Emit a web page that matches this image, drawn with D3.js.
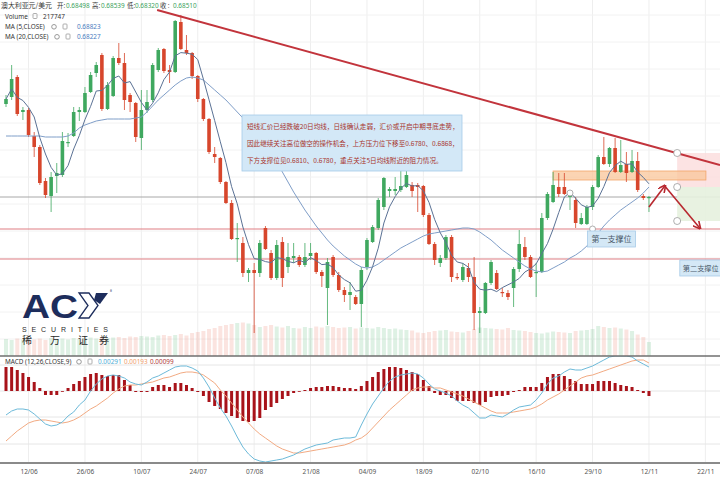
<!DOCTYPE html>
<meta charset="utf-8">
<style>
  body { margin: 0; background: #fff; }
  svg { display: block; font-family: "Noto Sans CJK SC", "Noto Sans", sans-serif; }
</style>
<body>
<div id="chart"></div>
<script src="https://d3js.org/d3.v7.min.js"></script>
<script>
  // daily candles, AUD/USD
  const openP = [
    0.6935,0.6942,0.6962,0.6927,0.6929,0.6903,0.6892,0.6858,0.6843,0.6863,
    0.6864,0.6896,0.6903,0.6927,0.6927,0.6947,0.6966,0.6984,0.6930,0.6943,
    0.6981,0.6976,0.6944,0.6936,0.6901,0.6929,0.6939,0.6969,0.6990,0.6969,
    0.6967,0.7017,0.6989,0.6986,0.6963,0.6940,0.6920,0.6885,0.6881,0.6857,
    0.6836,0.6800,0.6796,0.6766,0.6769,0.6766,0.6811,0.6786,0.6761,0.6797,
    0.6772,0.6781,0.6782,0.6774,0.6783,0.6786,0.6767,0.6751,0.6782,0.6764,
    0.6749,0.6744,0.6742,0.6735,0.6772,0.6797,0.6811,0.6832,0.6848,0.6848,
    0.6849,0.6852,0.6854,0.6854,0.6853,0.6824,0.6795,0.6776,0.6781,0.6802,
    0.6762,0.6759,0.6771,0.6762,0.6726,0.6726,0.6756,0.6766,0.6747,0.6746,
    0.6751,0.6770,0.6792,0.6782,0.6766,0.6767,0.6821,0.6837,0.6852,0.6852,
    0.6842,0.6839,0.6815,0.6815,0.6832,0.6852,0.6882,0.6875,0.6891,0.6867,
    0.6875,0.6867,0.6878,0.6843,0.6841];
  const highP = [
    0.6944,0.6974,0.6964,0.6932,0.6931,0.6907,0.6894,0.6861,0.6867,0.6876,
    0.6907,0.6906,0.6932,0.6932,0.6952,0.6967,0.6977,0.6986,0.6957,0.6983,
    0.6996,0.6986,0.6946,0.6937,0.6949,0.6949,0.6976,0.6991,0.6991,0.6974,
    0.7019,0.7024,0.7004,0.6987,0.6964,0.6941,0.6921,0.6892,0.6882,0.6858,
    0.6839,0.6816,0.6802,0.6771,0.6776,0.6799,0.6813,0.6789,0.6799,0.6802,
    0.6796,0.6796,0.6784,0.6796,0.6796,0.6787,0.6769,0.6781,0.6784,0.6767,
    0.6752,0.6757,0.6744,0.6772,0.6801,0.6814,0.6841,0.6862,0.6852,0.6862,
    0.6874,0.6874,0.6857,0.6856,0.6854,0.6826,0.6797,0.6784,0.6804,0.6804,
    0.6766,0.6776,0.6776,0.6782,0.6732,0.6757,0.6779,0.6769,0.6751,0.6749,
    0.6772,0.6809,0.6802,0.6784,0.6776,0.6826,0.6847,0.6867,0.6866,0.6866,
    0.6846,0.6842,0.6826,0.6834,0.6854,0.6884,0.6902,0.6892,0.6901,0.6899,
    0.6887,0.6889,0.6887,0.6845,0.6843];
  const lowP = [
    0.6932,0.6939,0.6923,0.6919,0.6902,0.6882,0.6854,0.6841,0.6827,0.6846,
    0.6862,0.6892,0.6902,0.6918,0.6926,0.6946,0.6962,0.6928,0.6929,0.6942,
    0.6974,0.6929,0.6927,0.6897,0.6889,0.6926,0.6937,0.6967,0.6966,0.6956,
    0.6966,0.6989,0.6984,0.6960,0.6937,0.6918,0.6885,0.6876,0.6855,0.6835,
    0.6799,0.6777,0.6762,0.6757,0.6706,0.6762,0.6789,0.6759,0.6759,0.6752,
    0.6766,0.6776,0.6772,0.6772,0.6779,0.6765,0.6752,0.6714,0.6762,0.6747,
    0.6737,0.6729,0.6734,0.6712,0.6769,0.6796,0.6809,0.6829,0.6842,0.6844,
    0.6847,0.6851,0.6842,0.6827,0.6822,0.6794,0.6774,0.6772,0.6779,0.6757,
    0.6759,0.6757,0.6757,0.6709,0.6706,0.6725,0.6754,0.6749,0.6742,0.6739,
    0.6732,0.6767,0.6779,0.6761,0.6742,0.6766,0.6819,0.6836,0.6842,0.6844,
    0.6829,0.6811,0.6814,0.6814,0.6829,0.6851,0.6874,0.6872,0.6866,0.6866,
    0.6857,0.6866,0.6847,0.6839,0.6827];
  const closeP = [
    0.6940,0.6960,0.6925,0.6929,0.6904,0.6892,0.6856,0.6844,0.6862,0.6866,
    0.6898,0.6897,0.6927,0.6929,0.6946,0.6964,0.6974,0.6930,0.6954,0.6981,
    0.6976,0.6939,0.6937,0.6902,0.6929,0.6937,0.6974,0.6989,0.6968,0.6967,
    0.7018,0.6990,0.6986,0.6963,0.6940,0.6920,0.6887,0.6882,0.6857,0.6836,
    0.6800,0.6801,0.6766,0.6769,0.6766,0.6796,0.6790,0.6761,0.6794,0.6761,
    0.6782,0.6783,0.6774,0.6782,0.6786,0.6767,0.6763,0.6777,0.6764,0.6749,
    0.6744,0.6747,0.6735,0.6769,0.6799,0.6812,0.6839,0.6861,0.6850,0.6850,
    0.6853,0.6864,0.6848,0.6852,0.6824,0.6795,0.6779,0.6781,0.6802,0.6762,
    0.6761,0.6772,0.6762,0.6726,0.6728,0.6756,0.6777,0.6750,0.6746,0.6742,
    0.6770,0.6795,0.6782,0.6762,0.6767,0.6821,0.6845,0.6854,0.6845,0.6845,
    0.6844,0.6816,0.6821,0.6832,0.6852,0.6882,0.6875,0.6891,0.6867,0.6874,
    0.6866,0.6878,0.6849,0.6841,0.6842];
  // volume, thousands
  const volumeK = [
    170,160,175,165,160,165,175,160,180,170,
    175,165,180,170,180,185,175,190,180,
    185,190,180,195,190,200,195,190,205,210,200,
    210,220,205,230,240,
    250,270,280,300,310,320,330,335,325,310,
    290,300,310,295,285,300,280,275,
    290,280,295,285,300,290,280,285,290,275,
    285,280,275,290,280,270,275,265,260,255,
    235,230,240,250,255,260,245,240,235,250,
    270,285,280,275,270,265,280,260,255,250,
    240,230,225,235,245,240,235,230,250,255,260,270,
    300,290,280,285,275,265,250,215,190,140];
  // MA(20) as drawn
  const ma20 = [
    0.6903,0.6903,0.6903,0.6903,0.6903,0.6903,0.6903,0.6902,0.6902,0.6902,
    0.6902,0.6903,0.6906,0.6911,0.6914,0.6916,0.6918,0.6919,0.6920,0.6920,
    0.6920,0.6920,0.6920,0.6921,0.6922,0.6927,0.6933,0.6939,0.6944,0.6949,
    0.6954,0.6958,0.6961,0.6962,0.6961,0.6959,0.6954,0.6949,0.6944,0.6939,
    0.6933,0.6927,0.6921,0.6915,0.6908,0.6901,0.6894,0.6886,0.6877,0.6867,
    0.6857,0.6847,0.6838,0.6829,0.6821,0.6813,0.6806,0.6799,0.6793,0.6788,
    0.6783,0.6779,0.6775,0.6772,0.6771,0.6772,0.6775,0.6779,0.6783,0.6787,
    0.6791,0.6794,0.6797,0.6800,0.6803,0.6805,0.6806,0.6807,0.6808,0.6809,
    0.6810,0.6811,0.6811,0.6810,0.6807,0.6803,0.6799,0.6794,0.6789,0.6785,
    0.6781,0.6777,0.6773,0.6770,0.6768,0.6767,0.6768,0.6771,0.6774,0.6777,
    0.6781,0.6784,0.6788,0.6793,0.6799,0.6806,0.6813,0.6819,0.6824,0.6829,
    0.6833,0.6837,0.6841,0.6846,0.6852];
  // MACD (12,26,9)
  const dif = [
    -0.0024,-0.0020,-0.0018,-0.0018,-0.0019,-0.0023,-0.0028,-0.0033,-0.0035,-0.0034,
    -0.0031,-0.0025,-0.0021,-0.0014,-0.0009,0.0000,0.0007,0.0012,0.0015,0.0016,
    0.0015,0.0013,0.0009,0.0007,0.0006,0.0009,0.0013,0.0015,0.0018,0.0021,
    0.0024,0.0025,0.0025,0.0023,0.0020,0.0013,0.0004,-0.0007,-0.0017,-0.0025,
    -0.0035,-0.0046,-0.0056,-0.0063,-0.0068,-0.0070,-0.0071,-0.0070,-0.0069,-0.0068,
    -0.0066,-0.0064,-0.0061,-0.0058,-0.0056,-0.0054,-0.0053,-0.0052,-0.0049,-0.0048,
    -0.0047,-0.0047,-0.0046,-0.0034,-0.0023,-0.0013,-0.0005,0.0003,0.0010,0.0014,
    0.0016,0.0017,0.0018,0.0017,0.0013,0.0007,0.0002,0.0000,-0.0002,-0.0005,
    -0.0010,-0.0014,-0.0017,-0.0022,-0.0027,-0.0027,-0.0024,-0.0025,-0.0026,-0.0023,
    -0.0019,-0.0016,-0.0015,-0.0014,-0.0009,-0.0002,0.0007,0.0013,0.0015,0.0019,
    0.0022,0.0021,0.0021,0.0023,0.0025,0.0028,0.0031,0.0034,0.0035,0.0035,
    0.0035,0.0034,0.0030,0.0027,0.0024];
  const dea = [
    -0.0050,-0.0045,-0.0040,-0.0036,-0.0032,-0.0030,-0.0029,-0.0029,-0.0030,-0.0031,
    -0.0032,-0.0031,-0.0029,-0.0026,-0.0022,-0.0018,-0.0015,-0.0011,-0.0007,-0.0002,
    0.0002,0.0005,0.0006,0.0006,0.0007,0.0008,0.0009,0.0011,0.0013,0.0014,
    0.0016,0.0018,0.0019,0.0019,0.0018,0.0016,0.0012,0.0008,0.0001,-0.0005,
    -0.0012,-0.0019,-0.0026,-0.0032,-0.0038,-0.0043,-0.0047,-0.0051,-0.0055,-0.0058,
    -0.0060,-0.0062,-0.0062,-0.0061,-0.0060,-0.0059,-0.0058,-0.0057,-0.0056,-0.0055,
    -0.0054,-0.0052,-0.0049,-0.0047,-0.0043,-0.0037,-0.0031,-0.0025,-0.0019,-0.0014,
    -0.0009,-0.0004,0.0001,0.0003,0.0004,0.0004,0.0003,0.0003,0.0001,-0.0001,
    -0.0003,-0.0005,-0.0008,-0.0011,-0.0014,-0.0017,-0.0020,-0.0022,-0.0022,-0.0022,
    -0.0021,-0.0020,-0.0019,-0.0018,-0.0016,-0.0013,-0.0009,-0.0006,-0.0003,0.0001,
    0.0005,0.0009,0.0013,0.0015,0.0016,0.0018,0.0020,0.0022,0.0024,0.0026,
    0.0028,0.0030,0.0031,0.0031,0.0028];
  const hist = [
    0.0024,0.0024,0.0021,0.0018,0.0014,0.0009,0.0003,-0.0004,-0.0004,-0.0004,
    0.0000,0.0003,0.0007,0.0010,0.0014,0.0017,0.0018,0.0016,0.0015,0.0016,
    0.0016,0.0011,0.0006,-0.0001,-0.0001,-0.0001,0.0004,0.0006,0.0006,0.0004,
    0.0008,0.0008,0.0006,0.0003,-0.0001,-0.0005,-0.0011,-0.0015,-0.0018,-0.0022,
    -0.0025,-0.0027,-0.0030,-0.0031,-0.0030,-0.0027,-0.0019,-0.0016,-0.0012,-0.0008,
    -0.0005,-0.0002,0.0000,0.0001,0.0003,0.0004,0.0004,0.0005,0.0005,0.0004,
    0.0003,0.0003,0.0002,0.0005,0.0010,0.0014,0.0019,0.0022,0.0024,0.0024,
    0.0023,0.0021,0.0019,0.0017,0.0011,0.0005,-0.0002,-0.0004,-0.0004,-0.0007,
    -0.0010,-0.0010,-0.0010,-0.0012,-0.0014,-0.0011,-0.0006,-0.0005,-0.0005,-0.0004,
    -0.0001,0.0001,0.0004,0.0004,0.0004,0.0008,0.0014,0.0017,0.0017,0.0015,
    0.0012,0.0010,0.0007,0.0007,0.0007,0.0010,0.0010,0.0010,0.0008,0.0006,
    0.0005,0.0004,0.0001,-0.0002,-0.0005];

  const tickIdx = [4, 14, 24, 34, 44, 54, 64, 74, 84, 94, 104, 114, 124];
  const tickLabels = ['12/06', '26/06', '10/07', '24/07', '07/08', '21/08', '04/09',
    '18/09', '02/10', '16/10', '29/10', '12/11', '22/11'];

  // drawing objects: [candle index, price]
  const trendLine = [[26.8, 0.7029], [126.6, 0.6874]];
  const supportLevels = [0.6810, 0.6780];
  const lastLevel = 0.6842;
  const resistZone = {from: 97, to: 124.1, top: 0.6868, bottom: 0.6859};
  const riskBox = {from: 119, top: 0.6886, mid: 0.6852, bottom: 0.6818};
  const arrowPath = [[114, 0.6832], [116.8, 0.6853], [123, 0.6811]];

  const W = 720, H = 479;
  const mainBottom = 356, macdTop = 356, macdBottom = 463;

  const candles = openP.map((o, i) => ({
    i, o, h: highP[i], l: lowP[i], c: closeP[i], v: volumeK[i]
  }));
  const ma5 = closeP.map((c, i) => d3.mean(closeP.slice(Math.max(0, i - 4), i + 1)));

  const x = d3.scaleLinear().domain([0, 124]).range([6, 6 + 5.64 * 124]);
  const y = d3.scaleLinear().domain([0.6679, 0.7039]).range([360, 0]);
  const yVol = d3.scaleLinear().domain([0, 340]).range([mainBottom, mainBottom - 34]);
  const yM = d3.scaleLinear().domain([-0.0072, 0.0035]).range([macdBottom, macdTop]);

  const up = '#3fa85f', down = '#d7462c';

  const svg = d3.select('#chart').append('svg')
      .attr('width', W).attr('height', H);

  const defs = svg.append('defs');
  defs.append('clipPath').attr('id', 'mainClip')
    .append('rect').attr('x', 0).attr('y', 0).attr('width', W).attr('height', mainBottom);
  defs.append('clipPath').attr('id', 'macdClip')
    .append('rect').attr('x', 0).attr('y', macdTop).attr('width', W).attr('height', macdBottom - macdTop);
  defs.append('marker').attr('id', 'arrow')
      .attr('viewBox', '0 0 10 10').attr('refX', 8).attr('refY', 5)
      .attr('markerWidth', 5).attr('markerHeight', 5).attr('orient', 'auto')
    .append('path').attr('d', 'M0,0L10,5L0,10').attr('fill', 'none')
      .attr('stroke', '#b8282f').attr('stroke-width', 2);

  // grid
  svg.append('g').selectAll('line').data(tickIdx).join('line')
      .attr('x1', d => x(d)).attr('x2', d => x(d))
      .attr('y1', 0).attr('y2', macdBottom)
      .attr('stroke', '#eeeeee');
  svg.append('g').selectAll('line').data(d3.range(0.6700, 0.7030, 0.0027)).join('line')
      .attr('x1', 0).attr('x2', W)
      .attr('y1', d => y(d)).attr('y2', d => y(d))
      .attr('stroke', '#f2f2f2');

  const main = svg.append('g').attr('clip-path', 'url(#mainClip)');

  // volume
  main.append('g').selectAll('rect').data(candles).join('rect')
      .attr('x', d => x(d.i) - 2)
      .attr('width', 4)
      .attr('y', d => yVol(d.v))
      .attr('height', d => mainBottom - yVol(d.v))
      .attr('fill', d => d.c >= d.o ? 'rgba(90,185,120,0.2)' : 'rgba(235,120,100,0.2)');

  // logo
  const logo = svg.append('g');
  logo.append('text').attr('x', 22).attr('y', 317.5)
      .attr('font-family', 'Liberation Sans, Arial, sans-serif')
      .attr('font-weight', 'bold').attr('font-size', 34)
      .attr('textLength', 56).attr('lengthAdjust', 'spacingAndGlyphs')
      .attr('fill', '#1d2d5c').text('AC');
  logo.append('path')
      .attr('d', 'M79,293L89,293L98,305.5L89,318L79,318L88,305.5Z')
      .attr('fill', '#fff').attr('stroke', '#1d2d5c').attr('stroke-width', 1.3);
  logo.append('path')
      .attr('d', 'M96,293L108,293L100,304L94,300Z')
      .attr('fill', '#1d2d5c');
  logo.append('text').attr('x', 110).attr('y', 293).attr('font-size', 4)
      .attr('fill', '#1d2d5c').text('®');
  logo.append('text').attr('x', 22).attr('y', 331.5)
      .attr('font-family', 'Liberation Sans, Arial, sans-serif')
      .attr('font-size', 7).attr('textLength', 86)
      .attr('fill', '#2a2a2a').text('SECURITIES');
  logo.append('g').selectAll('text').data([['稀', 22], ['万', 50], ['证', 78], ['券', 99]]).join('text')
      .attr('x', d => d[1]).attr('y', 344).attr('font-size', 10)
      .attr('fill', '#2a2a2a').text(d => d[0]);

  // horizontal levels
  main.append('line')
      .attr('x1', 0).attr('x2', W).attr('y1', y(lastLevel)).attr('y2', y(lastLevel))
      .attr('stroke', '#a8a8a8').attr('stroke-width', 1);
  main.append('g').selectAll('line').data(supportLevels).join('line')
      .attr('x1', 0).attr('x2', W)
      .attr('y1', d => y(d)).attr('y2', d => y(d))
      .attr('stroke', '#e07f84').attr('stroke-width', 1.2);

  // risk / reward boxes
  main.append('rect')
      .attr('x', x(riskBox.from)).attr('width', W - x(riskBox.from))
      .attr('y', y(riskBox.top)).attr('height', y(riskBox.mid) - y(riskBox.top))
      .attr('fill', '#fbdcdc').attr('opacity', 0.8);
  main.append('rect')
      .attr('x', x(riskBox.from)).attr('width', W - x(riskBox.from))
      .attr('y', y(riskBox.mid)).attr('height', y(riskBox.bottom) - y(riskBox.mid))
      .attr('fill', '#e5f1de').attr('opacity', 0.9);

  // resistance zone
  main.append('rect')
      .attr('x', x(resistZone.from)).attr('width', x(resistZone.to) - x(resistZone.from))
      .attr('y', y(resistZone.top)).attr('height', y(resistZone.bottom) - y(resistZone.top))
      .attr('fill', '#f9c59a').attr('fill-opacity', 0.75)
      .attr('stroke', '#f3a56a').attr('stroke-width', 0.8);

  // candles
  const cg = main.append('g').selectAll('g').data(candles).join('g')
      .attr('fill', d => d.c >= d.o ? up : down)
      .attr('stroke', d => d.c >= d.o ? up : down);
  cg.append('line')
      .attr('x1', d => x(d.i)).attr('x2', d => x(d.i))
      .attr('y1', d => y(d.h)).attr('y2', d => y(d.l))
      .attr('stroke-width', 0.8);
  cg.append('rect')
      .attr('x', d => x(d.i) - 1.8).attr('width', 3.6)
      .attr('y', d => y(Math.max(d.o, d.c)))
      .attr('height', d => Math.max(1.2, Math.abs(y(d.o) - y(d.c))))
      .attr('stroke', 'none');

  // moving averages
  const maLine = d3.line().x((d, i) => x(i)).y(d => y(d));
  main.append('path').datum(ma20).attr('d', maLine)
      .attr('fill', 'none').attr('stroke', '#7f9ec8').attr('stroke-width', 1);
  main.append('path').datum(ma5).attr('d', maLine)
      .attr('fill', 'none').attr('stroke', '#5b7295').attr('stroke-width', 1);

  // trend line
  main.append('line')
      .attr('x1', x(trendLine[0][0])).attr('y1', y(trendLine[0][1]))
      .attr('x2', x(trendLine[1][0])).attr('y2', y(trendLine[1][1]))
      .attr('stroke', '#c2343c').attr('stroke-width', 2);

  // projected path
  main.append('g').selectAll('line').data([[arrowPath[0], arrowPath[1]], [arrowPath[1], arrowPath[2]]]).join('line')
      .attr('x1', d => x(d[0][0])).attr('y1', d => y(d[0][1]))
      .attr('x2', d => x(d[1][0])).attr('y2', d => y(d[1][1]))
      .attr('stroke', '#b8282f').attr('stroke-width', 1.6)
      .attr('marker-end', 'url(#arrow)');

  // anchor circles
  const anchors = [[riskBox.from, riskBox.top], [riskBox.from, riskBox.mid],
    [riskBox.from, riskBox.bottom], [104, supportLevels[0]], [100, 0.6846]];
  main.append('g').selectAll('circle').data(anchors).join('circle')
      .attr('cx', d => x(d[0])).attr('cy', d => y(d[1]))
      .attr('r', (d, i) => i < 3 ? 3.5 : 3)
      .attr('fill', '#fff').attr('stroke', '#9a9a9a').attr('stroke-width', 0.8);

  // support labels
  const labels = [
    {text: '第一支撑位', lx: x(104) - 5, w: 48, y0: supportLevels[0], dy: 2, fs: 8, pad: 4},
    {text: '第二支撑位', lx: x(120) - 3, w: 50, y0: supportLevels[1], dy: 1, fs: 7.2, pad: 3}
  ];
  labels.forEach(d => {
    const ly = y(d.y0) + d.dy;
    main.append('rect').attr('x', d.lx).attr('y', ly).attr('width', d.w).attr('height', 16)
        .attr('fill', '#d4e8f6').attr('stroke', '#a7cbe8').attr('stroke-width', 0.8);
    main.append('text').attr('x', d.lx + d.pad).attr('y', ly + 11).attr('font-size', d.fs)
        .attr('fill', '#4a5a6a').text(d.text);
  });

  // comment box
  const note = [
    '短线汇价已经跌破20日均线，日线确认走弱，汇价或开启中期寻底走势，',
    '因此继续关注高位做空的操作机会，上方压力位下移至0.6780、0.6868，',
    '下方支撑位见0.6810、0.6780，重点关注5日均线附近的阻力情况。'
  ];
  svg.append('rect').attr('x', 242).attr('y', 115).attr('width', 220).attr('height', 56)
      .attr('fill', '#d3e8f7').attr('stroke', '#a6cbe8').attr('stroke-width', 0.8);
  svg.append('g').selectAll('text').data(note).join('text')
      .attr('x', 247).attr('y', (d, i) => 129 + i * 17)
      .attr('font-size', 6.6).attr('fill', '#a8342c').text(d => d);

  // MACD panel
  const macd = svg.append('g').attr('clip-path', 'url(#macdClip)');
  macd.append('g').selectAll('line').data([0.0026, 0, -0.0026, -0.0053]).join('line')
      .attr('x1', 0).attr('x2', W)
      .attr('y1', d => yM(d)).attr('y2', d => yM(d))
      .attr('stroke', '#e6e6e6');
  macd.append('g').selectAll('rect').data(hist).join('rect')
      .attr('x', (d, i) => x(i) - 1.5).attr('width', 3)
      .attr('y', d => yM(Math.max(0, d)))
      .attr('height', d => Math.max(0.8, Math.abs(yM(d) - yM(0))))
      .attr('fill', '#a8131a');
  const mLine = d3.line().x((d, i) => x(i)).y(d => yM(d));
  macd.append('path').datum(dea).attr('d', mLine)
      .attr('fill', 'none').attr('stroke', '#f2aa82').attr('stroke-width', 1);
  macd.append('path').datum(dif).attr('d', mLine)
      .attr('fill', 'none').attr('stroke', '#6dbad9').attr('stroke-width', 1);

  // panel separators
  svg.append('line').attr('x1', 0).attr('x2', W).attr('y1', macdTop).attr('y2', macdTop)
      .attr('stroke', '#6f6f6f').attr('stroke-width', 1.6);
  svg.append('line').attr('x1', 0).attr('x2', W).attr('y1', macdBottom).attr('y2', macdBottom)
      .attr('stroke', '#8a8a8a').attr('stroke-width', 2);

  // x axis
  const xAxis = d3.axisBottom(x).tickValues(tickIdx)
      .tickFormat((d, i) => tickLabels[i]).tickSize(0).tickPadding(5);
  const ax = svg.append('g').attr('transform', `translate(0,${macdBottom + 1})`).call(xAxis);
  ax.select('.domain').remove();
  ax.selectAll('text').attr('font-size', 6.5).attr('fill', '#555')
      .attr('font-family', '"Noto Sans", sans-serif');

  // legends
  const icon = (g, cx, cy) => {
    g.append('rect').attr('x', cx - 2).attr('y', cy - 3).attr('width', 4).attr('height', 5)
        .attr('rx', 0.8).attr('fill', 'none').attr('stroke', '#999').attr('stroke-width', 0.8);
  };
  const gear = (g, cx, cy) => {
    g.append('circle').attr('cx', cx).attr('cy', cy).attr('r', 2.3)
        .attr('fill', 'none').attr('stroke', '#999').attr('stroke-width', 1);
  };
  const leg = svg.append('g').attr('font-size', 6.4).attr('fill', '#333')
      .attr('font-family', '"Noto Sans", "Noto Sans CJK SC", sans-serif');
  leg.append('text').attr('x', 1).attr('y', 8).attr('font-size', 6.9)
      .attr('font-family', '"Noto Sans CJK SC", sans-serif').text('澳大利亚元/美元');
  [['开:', 57, '0.68498', 66], ['高:', 92, '0.68539', 101],
   ['低:', 127, '0.68320', 135], ['收 :', 160, '0.68510', 173]].forEach(d => {
    leg.append('text').attr('x', d[1]).attr('y', 8)
        .attr('font-family', '"Noto Sans CJK SC", sans-serif').text(d[0]);
    leg.append('text').attr('x', d[3]).attr('y', 8).attr('fill', '#3c9f5c').text(d[2]);
  });
  leg.append('text').attr('x', 5).attr('y', 19).text('Volume');
  icon(leg, 35, 16.5);
  leg.append('text').attr('x', 43).attr('y', 19).text('217747');
  leg.append('text').attr('x', 5).attr('y', 29).text('MA (5,CLOSE)');
  gear(leg, 54, 26.8); icon(leg, 65, 27);
  leg.append('text').attr('x', 77).attr('y', 29).attr('fill', '#4a7cc0').text('0.68823');
  leg.append('text').attr('x', 5).attr('y', 39).text('MA (20,CLOSE)');
  gear(leg, 57, 36.8); icon(leg, 68, 37);
  leg.append('text').attr('x', 77).attr('y', 39).attr('fill', '#4a7cc0').text('0.68227');
  leg.append('text').attr('x', 5).attr('y', 364).text('MACD (12,26,CLOSE,9)');
  gear(leg, 79, 361.8); icon(leg, 90, 362);
  leg.append('text').attr('x', 98).attr('y', 364).attr('fill', '#4eaed6').text('0.00291');
  leg.append('text').attr('x', 124).attr('y', 364).attr('fill', '#ef9e6e').text('0.00193');
  leg.append('text').attr('x', 150).attr('y', 364).attr('fill', '#b03a3a').text('0.00099');
</script>
